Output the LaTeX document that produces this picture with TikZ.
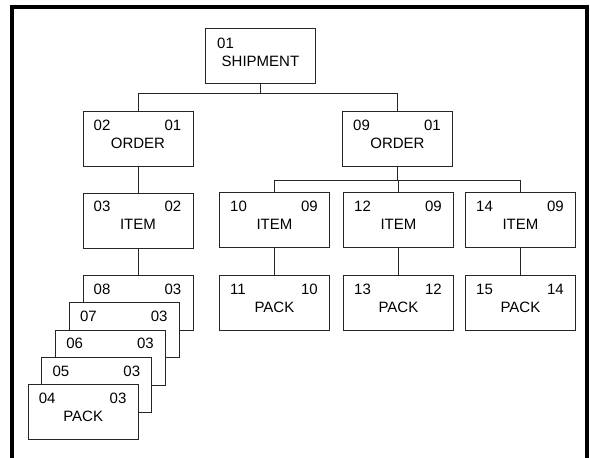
\documentclass[tikz,border=0pt]{standalone}
\usepackage{fontspec}
\setmainfont{Liberation Sans}
\begin{document}
\begin{tikzpicture}[x=1pt,y=-1pt,
  box/.style={draw=black!85, line width=0.9pt, fill=white, minimum width=110pt,
    minimum height=55pt, inner sep=0pt, anchor=north west},
  txt/.style={inner sep=0pt, font=\fontsize{15}{18}\selectfont},
  ent/.style n args={3}{box,
    label={[txt, anchor=west, xshift=11pt, yshift=-14pt]north west:#1},
    label={[txt, anchor=east, xshift=-12pt, yshift=-14pt]north east:#2},
    label={[txt, anchor=center, yshift=-32pt]north:#3}},
  link/.style={draw=black!85, line width=0.9pt},
  frame/.style={line width=4pt, line cap=rect}]
\useasboundingbox (0,0) rectangle (590,458);
% frame
\draw[frame] (12,460) -- (12,6.5) -- (587,6.5) -- (587,460);
% root
\node[box, label={[txt, anchor=west, xshift=12pt, yshift=-15pt]north west:01},
  label={[txt, anchor=center, yshift=-33pt]north:SHIPMENT}] (ship) at (205,28) {};
% orders
\node[ent={02}{01}{ORDER}] (o1) at (82.5,111) {};
\node[ent={09}{01}{ORDER}] (o9) at (342,111) {};
% items
\node[ent={03}{02}{ITEM}] (i3) at (82.5,192.5) {};
\node[ent={10}{09}{ITEM}] (i10) at (219,192) {};
\node[ent={12}{09}{ITEM}] (i12) at (343,192) {};
\node[ent={14}{09}{ITEM}] (i14) at (465,192) {};
% right packs
\node[ent={11}{10}{PACK}] (p11) at (219,275) {};
\node[ent={13}{12}{PACK}] (p13) at (343,275) {};
\node[ent={15}{14}{PACK}] (p15) at (465,275) {};
% stacked packs
\node[ent={08}{03}{}] (p8) at (82.5,275) {};
\node[ent={07}{03}{}] (p7) at (68.8,302.3) {};
\node[ent={06}{03}{}] (p6) at (55.1,329.6) {};
\node[ent={05}{03}{}] (p5) at (41.4,356.9) {};
\node[ent={04}{03}{PACK}] (p4) at (27.7,384.2) {};
% connectors
\draw[link] (ship.south) -- ++(0,10) -| (o1.north);
\draw[link] (ship.south) -- ++(0,10) -| (o9.north);
\draw[link] (o1.south) -- (i3.north);
\draw[link] (i3.south) -- (p8.north);
\draw[link] (o9.south) -- ++(0,14) -| (i10.north);
\draw[link] (o9.south) -- ++(0,14) -| (i12.north);
\draw[link] (o9.south) -- ++(0,14) -| (i14.north);
\draw[link] (i10.south) -- (p11.north);
\draw[link] (i12.south) -- (p13.north);
\draw[link] (i14.south) -- (p15.north);
\end{tikzpicture}
\end{document}
